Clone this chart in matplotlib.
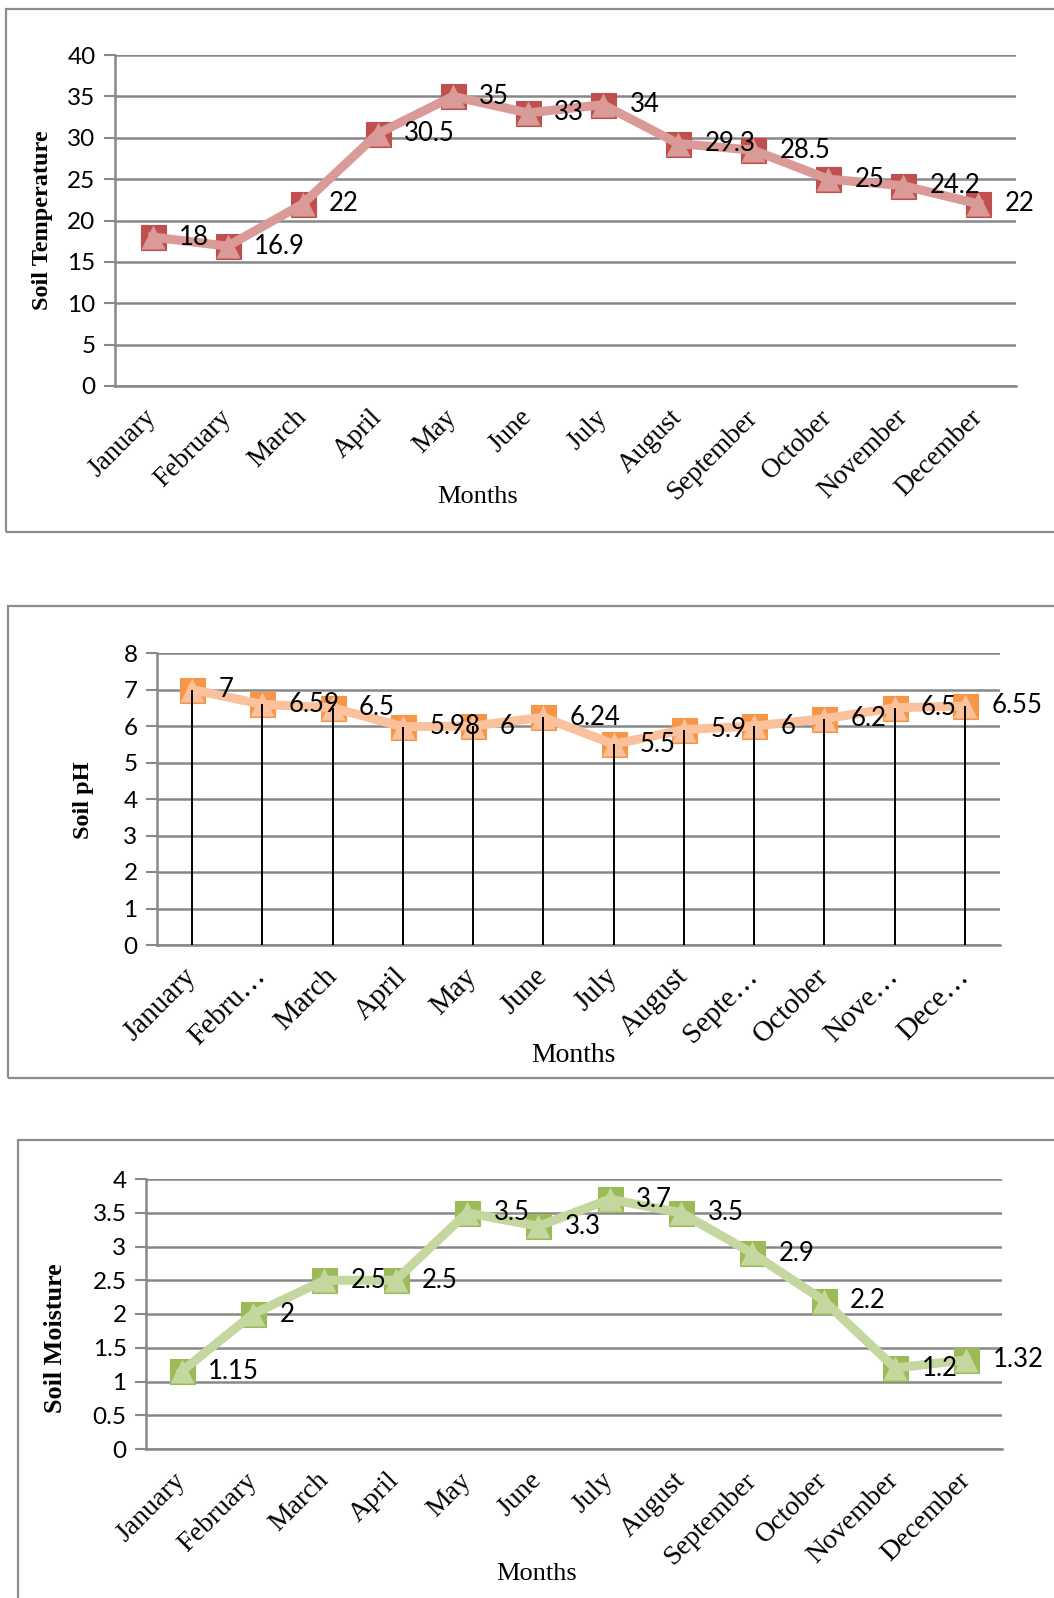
import matplotlib.pyplot as plt
from matplotlib.patches import Rectangle

months = ["January", "February", "March", "April", "May", "June", "July",
          "August", "September", "October", "November", "December"]
months_short = ["January", "Febru\u2026", "March", "April", "May", "June", "July",
                "August", "Septe\u2026", "October", "Nove\u2026", "Dece\u2026"]

soil_temp = [18, 16.9, 22, 30.5, 35, 33, 34, 29.3, 28.5, 25, 24.2, 22]
soil_ph = [7, 6.59, 6.5, 5.98, 6, 6.24, 5.5, 5.9, 6, 6.2, 6.5, 6.55]
soil_moisture = [1.15, 2, 2.5, 2.5, 3.5, 3.3, 3.7, 3.5, 2.9, 2.2, 1.2, 1.32]

temp_ticks = [0, 5, 10, 15, 20, 25, 30, 35, 40]
ph_ticks = [0, 1, 2, 3, 4, 5, 6, 7, 8]
moisture_ticks = [0, 0.5, 1, 1.5, 2, 2.5, 3, 3.5, 4]

W, H = 1054, 1598
grid_color = "#888888"
num_font = "Lato"
serif_font = "Liberation Serif"

fig = plt.figure(figsize=(W / 100, H / 100), dpi=100)


def px_axes(left, right, top, bottom):
    return fig.add_axes([left / W, 1 - bottom / H, (right - left) / W, (bottom - top) / H])


def px_box(left, top, bottom):
    fig.add_artist(Rectangle((left / W, 1 - bottom / H), 1.2, (bottom - top) / H,
                             transform=fig.transFigure, fill=False,
                             edgecolor="#8C8C8C", linewidth=1.6))


def style_axes(ax, ticks, labels, label_size):
    n = len(labels)
    ax.set_xlim(-0.5, n - 0.5)
    ax.set_ylim(ticks[0], ticks[-1])
    ax.set_yticks(ticks)
    ax.set_yticklabels([("%g" % t) for t in ticks], fontfamily=num_font, fontsize=17.5)
    ax.set_xticks(range(n))
    ax.set_xticklabels(labels, rotation=45, ha="right", va="center",
                       rotation_mode="anchor", fontfamily=serif_font, fontsize=label_size)
    ax.tick_params(axis="x", length=0, pad=20)
    ax.tick_params(axis="y", length=8, width=1.5, color=grid_color, pad=6)
    ax.grid(axis="y", color=grid_color, linewidth=1.8)
    ax.set_axisbelow(True)
    for side in ["top", "right"]:
        ax.spines[side].set_visible(False)
    for side in ["left", "bottom"]:
        ax.spines[side].set_color(grid_color)
        ax.spines[side].set_linewidth(1.8)
    ax.set_facecolor("none")


def draw_series(ax, values, dark, light):
    x = range(len(values))
    ax.plot(x, values, linestyle="none", marker="s", markersize=18,
            markerfacecolor=dark, markeredgecolor=dark, markeredgewidth=0.8, zorder=3,
            clip_on=False)
    ax.plot(x, values, color=light, linewidth=6.5, solid_joinstyle="miter", zorder=4,
            clip_on=False)
    ax.plot(x, values, linestyle="none", marker="^", markersize=17,
            markerfacecolor=light, markeredgecolor="none", zorder=5, clip_on=False)
    for xi, v in zip(x, values):
        ax.annotate("%g" % v, (xi, v), xytext=(19, 0), textcoords="offset points",
                    ha="left", va="center", fontfamily=num_font, fontsize=18.5,
                    zorder=6, annotation_clip=False)


# soil temperature
px_box(6, 9, 532)
ax1 = px_axes(115, 1016, 55, 386)
style_axes(ax1, temp_ticks, months, 19.5)
draw_series(ax1, soil_temp, "#C0504D", "#D99A98")
fig.text(478 / W, 1 - 497 / H, "Months", ha="center", va="center",
         fontfamily=serif_font, fontsize=19)
fig.text(43 / W, 1 - 220 / H, "Soil Temperature", ha="center", va="center",
         rotation=90, fontfamily=serif_font, fontweight="bold", fontsize=17.5)

# soil pH
px_box(8, 606, 1078)
ax2 = px_axes(157, 1000, 653, 945)
style_axes(ax2, ph_ticks, months_short, 21)
draw_series(ax2, soil_ph, "#F79646", "#FAC19C")
ax2.vlines(range(len(soil_ph)), 0, soil_ph, color="black", linewidth=1.4, zorder=7)
fig.text(573 / W, 1 - 1055 / H, "Months", ha="center", va="center",
         fontfamily=serif_font, fontsize=20)
fig.text(84 / W, 1 - 800 / H, "Soil pH", ha="center", va="center",
         rotation=90, fontfamily=serif_font, fontweight="bold", fontsize=17.5)

# soil moisture
px_box(18, 1140, 1650)
ax3 = px_axes(146, 1002, 1179, 1449)
style_axes(ax3, moisture_ticks, months, 20)
draw_series(ax3, soil_moisture, "#9BBB59", "#C4D79E")
fig.text(537 / W, 1 - 1574 / H, "Months", ha="center", va="center",
         fontfamily=serif_font, fontsize=19)
fig.text(56 / W, 1 - 1338 / H, "Soil Moisture", ha="center", va="center",
         rotation=90, fontfamily=serif_font, fontweight="bold", fontsize=18.8)

fig.savefig("out.png", dpi=100, facecolor="white")
